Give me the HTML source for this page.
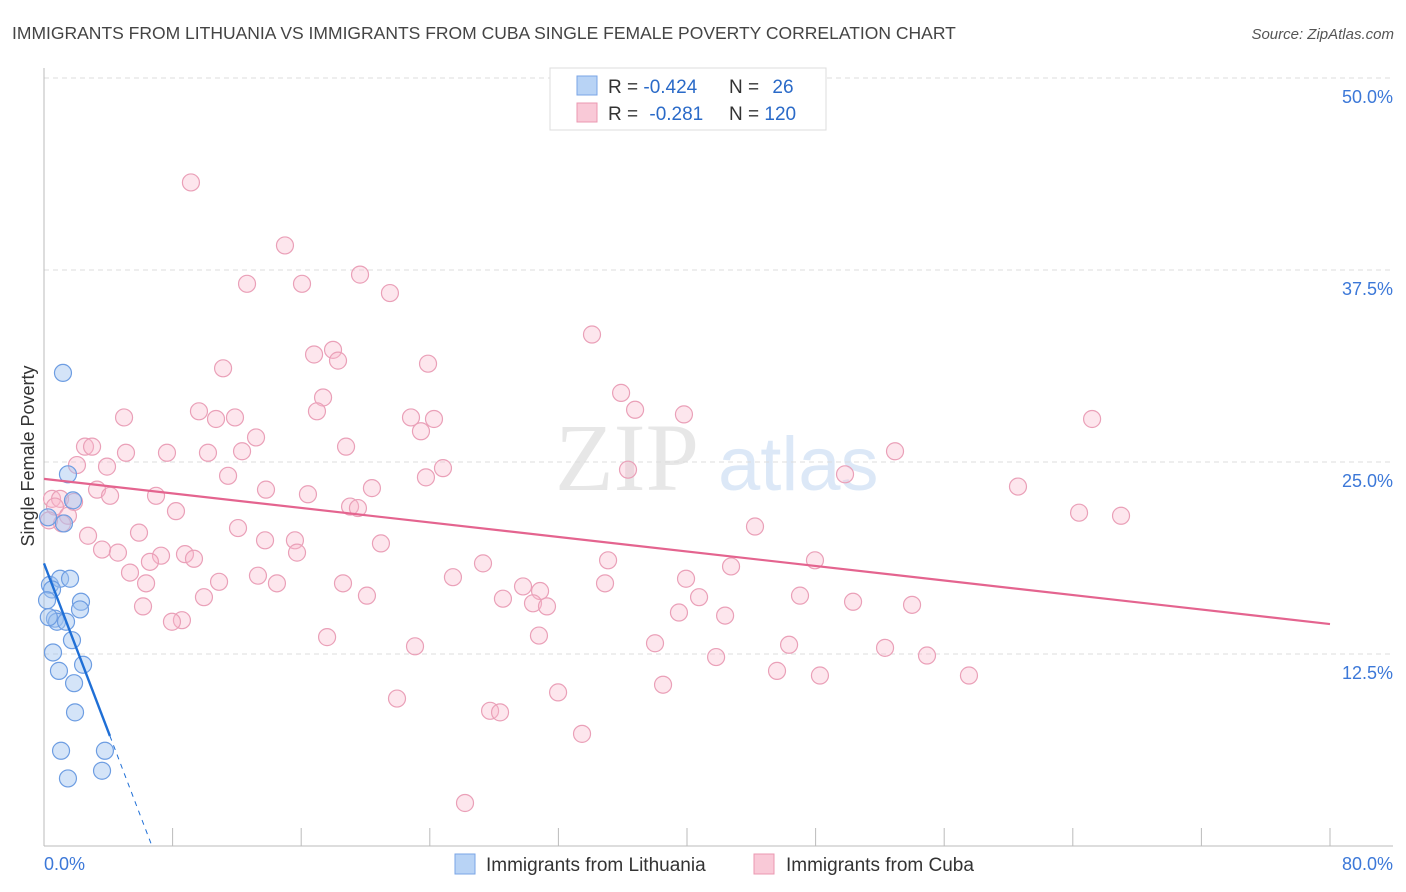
<!DOCTYPE html>
<html><head><meta charset="utf-8"><style>
body{margin:0;background:#fff;font-family:"Liberation Sans",sans-serif}
svg{display:block}
</style></head><body>
<svg id="chart" width="1406" height="892" xmlns="http://www.w3.org/2000/svg" font-family="Liberation Sans, sans-serif">
<text x="12" y="39" font-size="17.5" fill="#444">IMMIGRANTS FROM LITHUANIA VS IMMIGRANTS FROM CUBA SINGLE FEMALE POVERTY CORRELATION CHART</text>
<text x="1394" y="39" font-size="15" fill="#555" font-style="italic" text-anchor="end">Source: ZipAtlas.com</text>
<g opacity="0.35">
<text x="555" y="490" font-size="96" fill="#bbb" font-family="Liberation Serif, serif">ZIP</text>
<text x="718" y="490" font-size="76" fill="#9cc0ea">atlas</text>
</g>
<g id="grid"></g>
<g id="ticks"></g>
<line x1="44" y1="846" x2="1393" y2="846" stroke="#bbb"/>
<line x1="44" y1="68" x2="44" y2="846" stroke="#bbb"/>
<text transform="translate(34,456) rotate(-90)" font-size="18" fill="#333" text-anchor="middle">Single Female Poverty</text>
<text x="44" y="870" font-size="18" fill="#3c78d8">0.0%</text>
<text x="1393" y="870" font-size="18" fill="#3c78d8" text-anchor="end">80.0%</text>
<g id="pink"></g>
<g id="blue"></g>
<g id="lines"></g>
<g>
<rect x="550" y="68" width="276" height="62" fill="#fff" stroke="#ddd"/>
<rect x="577" y="76" width="20" height="19" fill="#b8d3f5" stroke="#7aa5e6"/>
<rect x="577" y="103" width="20" height="19" fill="#f9c9d7" stroke="#eb98b2"/>
<text x="608" y="93" font-size="19" fill="#333">R = <tspan fill="#2a6ac8">-0.424</tspan></text>
<text x="729" y="93" font-size="19" fill="#333">N = <tspan fill="#2a6ac8" dx="8">26</tspan></text>
<text x="608" y="120" font-size="19" fill="#333">R = <tspan fill="#2a6ac8" dx="6">-0.281</tspan></text>
<text x="729" y="120" font-size="19" fill="#333">N = <tspan fill="#2a6ac8">120</tspan></text>
</g>
<g>
<rect x="455" y="854" width="20" height="20" fill="#b8d3f5" stroke="#7aa5e6"/>
<text x="486" y="871" font-size="19" fill="#333">Immigrants from Lithuania</text>
<rect x="754" y="854" width="20" height="20" fill="#f9c9d7" stroke="#eb98b2"/>
<text x="786" y="871" font-size="19" fill="#333">Immigrants from Cuba</text>
</g>
</svg>
<script>
const yTicks=[12.5,25,37.5,50];
const yTickLabels=["12.5%","25.0%","37.5%","50.0%"];
const xTicks=[0,8,16,24,32,40,48,56,64,72,80];
const blueX=[1.18,1.49,1.80,1.24,0.25,0.37,1.00,1.62,0.50,2.30,2.24,0.68,0.81,1.37,1.74,0.56,2.43,0.93,1.87,1.93,1.06,3.79,1.49,3.61,0.19,0.3];
const blueY=[30.8,24.2,22.5,21.0,21.4,17.0,17.4,17.4,16.7,15.9,15.4,14.8,14.6,14.6,13.4,12.6,11.8,11.4,10.6,8.7,6.2,6.2,4.4,4.9,16.0,14.9];
const pinkX=[9.14,14.99,19.66,12.63,16.05,21.52,34.09,17.98,16.80,18.29,11.14,23.89,35.90,17.36,9.64,16.98,4.98,10.70,11.88,22.83,24.26,36.77,39.81,65.20,23.45,13.19,2.55,2.99,18.79,5.10,7.65,10.20,12.32,52.94,2.05,3.92,24.82,36.33,23.76,11.45,49.83,3.30,4.11,13.81,20.40,16.42,6.97,60.59,0.50,1.00,1.87,0.68,19.04,19.53,8.21,1.49,64.39,67.00,12.07,44.23,5.91,2.74,1.12,0.31,13.75,15.61,20.96,3.61,4.60,8.77,7.28,9.33,6.59,15.74,35.09,27.31,47.96,42.74,5.35,13.31,10.89,25.44,39.94,6.35,18.60,14.49,34.90,29.80,30.86,20.09,9.95,28.55,40.75,47.03,50.33,54.00,6.16,30.42,31.29,39.50,42.37,8.58,7.96,17.61,30.79,38.01,46.35,23.08,52.32,54.93,41.81,45.60,48.27,57.54,38.51,31.98,21.96,27.75,28.37,33.47,26.19];
const pinkY=[43.2,39.1,37.2,36.6,36.6,36.0,33.3,32.3,32.0,31.6,31.1,31.4,29.5,29.2,28.3,28.3,27.9,27.8,27.9,27.9,27.8,28.4,28.1,27.8,27.0,26.6,26.0,26.0,26.0,25.6,25.6,25.6,25.7,25.7,24.8,24.7,24.6,24.5,24.0,24.1,24.2,23.2,22.8,23.2,23.3,22.9,22.8,23.4,22.6,22.6,22.4,22.1,22.1,22.0,21.8,21.5,21.7,21.5,20.7,20.8,20.4,20.2,21.0,21.2,19.9,19.9,19.7,19.3,19.1,19.0,18.9,18.7,18.5,19.1,18.6,18.4,18.6,18.2,17.8,17.6,17.2,17.5,17.4,17.1,17.1,17.1,17.1,16.9,16.6,16.3,16.2,16.1,16.2,16.3,15.9,15.7,15.6,15.8,15.6,15.2,15.0,14.7,14.6,13.6,13.7,13.2,13.1,13.0,12.9,12.4,12.3,11.4,11.1,11.1,10.5,10.0,9.6,8.8,8.7,7.3,2.8];
const blueTrend=[18.4,-2.74];
const pinkTrend=[23.9,14.45];
const NS="http://www.w3.org/2000/svg";
const X=v=>44+v*1286/80, Y=v=>846-v*768/50;
function mk(t,a,p){const e=document.createElementNS(NS,t);for(const k in a)e.setAttribute(k,a[k]);p.appendChild(e);return e;}
const grid=document.getElementById('grid');
yTicks.forEach((t,i)=>{
 const l=mk('line',{x1:44,x2:1393,y1:Y(t),y2:Y(t),stroke:'#ddd','stroke-dasharray':'5,4'},grid);
 
 
 const tx=mk('text',{x:1393,y:Y(t)+25,'font-size':18,fill:'#3c78d8','text-anchor':'end'},grid);
 tx.textContent=yTickLabels[i];
 
 
});
const tk=document.getElementById('ticks');
xTicks.forEach(t=>{
 const l=mk('line',{x1:X(t),x2:X(t),y1:828,y2:846,stroke:'#bbb'},tk);
 
 
});
const pg=document.getElementById('pink');
pinkX.forEach((x,i)=>{
 const c=mk('circle',{cx:X(x),cy:Y(pinkY[i]),r:8.5,fill:'rgba(248,182,202,0.35)',stroke:'#eaa0b8','stroke-width':1.2},pg);
 
 
});
const bg=document.getElementById('blue');
blueX.forEach((x,i)=>{
 const c=mk('circle',{cx:X(x),cy:Y(blueY[i]),r:8.5,fill:'rgba(160,195,240,0.45)',stroke:'#6d9de2','stroke-width':1.2},bg);
 
 
});
const lg=document.getElementById('lines');
const pl=mk('line',{x1:X(0),y1:Y(pinkTrend[0]),x2:X(80),y2:Y(pinkTrend[1]),stroke:'#e4648f','stroke-width':2.2},lg);


const bEnd=-blueTrend[0]/blueTrend[1], bSolid=4.1;
const bl=mk('line',{x1:X(0),y1:Y(blueTrend[0]),x2:X(bSolid),y2:Y(blueTrend[0]+blueTrend[1]*bSolid),stroke:'#1f6fd6','stroke-width':2.4},lg);


const bd=mk('line',{x1:X(bSolid),y1:Y(blueTrend[0]+blueTrend[1]*bSolid),x2:X(bEnd),y2:Y(0),stroke:'#1f6fd6','stroke-width':1,'stroke-dasharray':'5,5'},lg);


</script>
</body></html>
